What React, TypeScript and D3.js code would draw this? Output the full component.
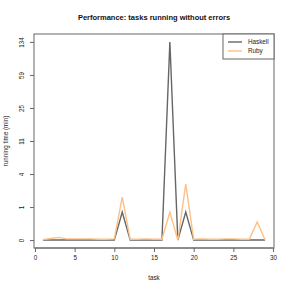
import React, { useRef, useEffect } from "react";
import * as d3 from "d3";

const tasks = [1, 2, 3, 4, 5, 6, 7, 8, 9, 10, 11, 12, 13, 14, 15, 16, 17, 18, 19, 20, 21, 22, 23, 24, 25, 26, 27, 28, 29];
const haskell = [0, 0, 0, 0, 0, 0, 0, 0, 0, 0, 1.0, 0, 0, 0, 0, 0, 134.1, 0, 1.0, 0, 0, 0, 0, 0, 0, 0, 0, 0, 0];
const ruby = [0.01, 0.04, 0.07, 0.03, 0.03, 0.03, 0.03, 0.02, 0.02, 0.03, 1.9, 0.02, 0.02, 0.03, 0.02, 0.02, 1.0, 0, 3.0, 0.02, 0.03, 0.02, 0.02, 0.03, 0.03, 0.02, 0.02, 0.57, 0];
const xTicks = [0, 5, 10, 15, 20, 25, 30];
const yTickLabels = ["0", "1", "4", "11", "25", "59", "134"];
const seriesNames = ["Haskell", "Ruby"];
const seriesColors = ["#666666", "#FDC086"];

const font = "'Liberation Sans', Arial, Helvetica, sans-serif";

function App() {
  const ref = useRef<HTMLDivElement>(null);

  useEffect(() => {
    d3.select(ref.current).select("svg").remove();

    const width = 291,
      height = 291;
    const left = 34,
      right = 274,
      top = 34,
      bottom = 248;

    const svg = d3
      .select(ref.current)
      .append("svg")
      .attr("width", width)
      .attr("height", height)
      .style("position", "absolute")
      .style("left", 0)
      .style("top", 0)
      .style("font-family", font);

    // y is log(1 + minutes), ticks evenly spaced up to the max
    const yMax = Math.log1p(d3.max(haskell.concat(ruby)) as number);
    const xPad = (tasks[tasks.length - 1] - tasks[0]) * 0.04;
    const x = d3
      .scaleLinear()
      .domain([tasks[0] - xPad, tasks[tasks.length - 1] + xPad])
      .range([left, right]);
    const y = d3
      .scaleLinear()
      .domain([-yMax * 0.04, yMax * 1.04])
      .range([bottom, top]);

    const yTickPos = yTickLabels.map((_, i) => (i * yMax) / (yTickLabels.length - 1));

    svg
      .append("text")
      .attr("x", (left + right) / 2)
      .attr("y", 20)
      .attr("text-anchor", "middle")
      .attr("font-size", "7.5px")
      .attr("font-weight", "bold")
      .attr("fill", "#111")
      .text("Performance: tasks running without errors");

    const xAxis = svg
      .append("g")
      .attr("transform", `translate(0,${bottom})`)
      .call(d3.axisBottom(x).tickValues(xTicks).tickSize(4).tickPadding(4));
    xAxis.select(".domain").attr("stroke", "#666").attr("d", `M${x(xTicks[0])},0H${x(xTicks[xTicks.length - 1])}`);
    xAxis.selectAll(".tick line").attr("stroke", "#666");
    xAxis.selectAll("text").attr("font-size", "6.3px").attr("font-family", font).attr("fill", "#222");

    const yAxis = svg
      .append("g")
      .attr("transform", `translate(${left},0)`)
      .call(
        d3
          .axisLeft(y)
          .tickValues(yTickPos)
          .tickFormat((_, i) => yTickLabels[i])
          .tickSize(4)
      );
    yAxis.select(".domain").remove();
    yAxis.selectAll(".tick line").attr("stroke", "#666");
    yAxis
      .selectAll(".tick text")
      .attr("font-size", "6.3px")
      .attr("font-family", font)
      .attr("fill", "#222")
      .attr("text-anchor", "middle")
      .attr("x", 0)
      .attr("y", 0)
      .attr("dy", 0)
      .attr("transform", "translate(-10,0) rotate(-90)");

    svg
      .append("text")
      .attr("transform", `translate(8,${(top + bottom) / 2}) rotate(-90)`)
      .attr("text-anchor", "middle")
      .attr("font-size", "6.3px")
      .attr("fill", "#222")
      .text("running time (min)");

    svg
      .append("text")
      .attr("x", (left + right) / 2)
      .attr("y", 280)
      .attr("text-anchor", "middle")
      .attr("font-size", "6.3px")
      .attr("fill", "#222")
      .text("task");

    const line = d3
      .line<number>()
      .x((_, i) => x(tasks[i]))
      .y(d => y(Math.log1p(d)));

    [haskell, ruby].forEach((s, i) => {
      svg
        .append("path")
        .attr("d", line(s))
        .attr("fill", "none")
        .attr("stroke", seriesColors[i])
        .attr("stroke-width", 1.4);
    });

    svg
      .append("rect")
      .attr("x", left)
      .attr("y", top)
      .attr("width", right - left)
      .attr("height", bottom - top)
      .attr("fill", "none")
      .attr("stroke", "#666");

    const legend = svg.append("g").attr("transform", `translate(${right - 51},${top})`);
    legend
      .append("rect")
      .attr("width", 51)
      .attr("height", 25)
      .attr("fill", "white")
      .attr("stroke", "#666");
    seriesNames.forEach((name, i) => {
      legend
        .append("line")
        .attr("x1", 5)
        .attr("x2", 19)
        .attr("y1", 8 + i * 9)
        .attr("y2", 8 + i * 9)
        .attr("stroke", seriesColors[i])
        .attr("stroke-width", 1.4);
      legend
        .append("text")
        .attr("x", 25)
        .attr("y", 8 + i * 9)
        .attr("dy", "0.35em")
        .attr("font-size", "6.3px")
        .attr("fill", "#222")
        .text(name);
    });
  }, []);

  return <div ref={ref}></div>;
}

export default App;
